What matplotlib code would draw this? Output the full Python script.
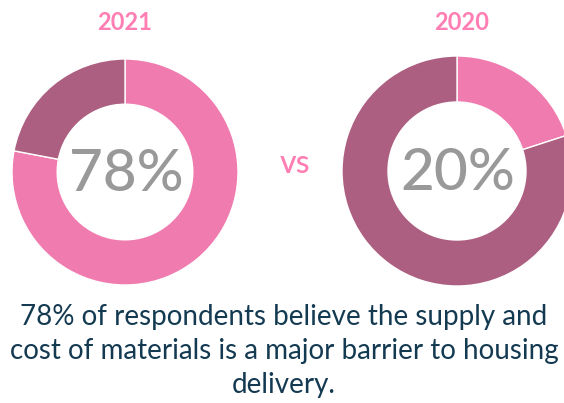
import matplotlib.pyplot as plt

# -----------------------------
# DATA
# -----------------------------

years = ["2021", "2020"]
agree = [78, 20]
rest = [22, 80]
center_labels = ["78%", "20%"]
caption = ("78% of respondents believe the supply and\n"
           "cost of materials is a major barrier to housing\n"
           "delivery.")

pink = "#F07CAF"
mauve = "#AC5F80"
title_pink = "#FF7EB3"
grey = "#999999"
navy = "#143A52"

W, H = 564, 403
fig = plt.figure(figsize=(W / 100, H / 100), dpi=100)
plt.rcParams['font.family'] = ['Lato', 'DejaVu Sans']

# pie centres and radii in pixels (from top-left)
centres = [(125, 172), (457, 171)]
radii = [113, 115]

for i in range(2):
    cx, cy = centres[i]
    r = radii[i]
    ax = fig.add_axes([(cx - r) / W, (H - cy - r) / H, 2 * r / W, 2 * r / H])
    ax.pie(
        [agree[i], rest[i]],
        colors=[pink, mauve],
        startangle=90,
        counterclock=False,
        radius=1,
        wedgeprops=dict(width=0.4, edgecolor="white", linewidth=1)
    )
    ax.set_xlim(-1, 1)
    ax.set_ylim(-1, 1)
    ax.axis("off")
    ax.text(0.01, -0.02, center_labels[i], ha="center", va="center",
            fontsize=42, color=grey, fontweight="medium")

    fig.text(cx / W + (0.008 if i else 0), 1 - 23 / H, years[i],
             ha="center", va="center", fontsize=17, fontweight="bold",
             color=title_pink)

fig.text(295 / W, 1 - 164 / H, "vs", ha="center", va="center",
         fontsize=23, color=title_pink, fontweight="medium")

fig.text(284 / W, 1 - 351 / H, caption, ha="center", va="center",
         fontsize=20, color=navy, linespacing=1.38)

fig.savefig("out.png", dpi=100)
